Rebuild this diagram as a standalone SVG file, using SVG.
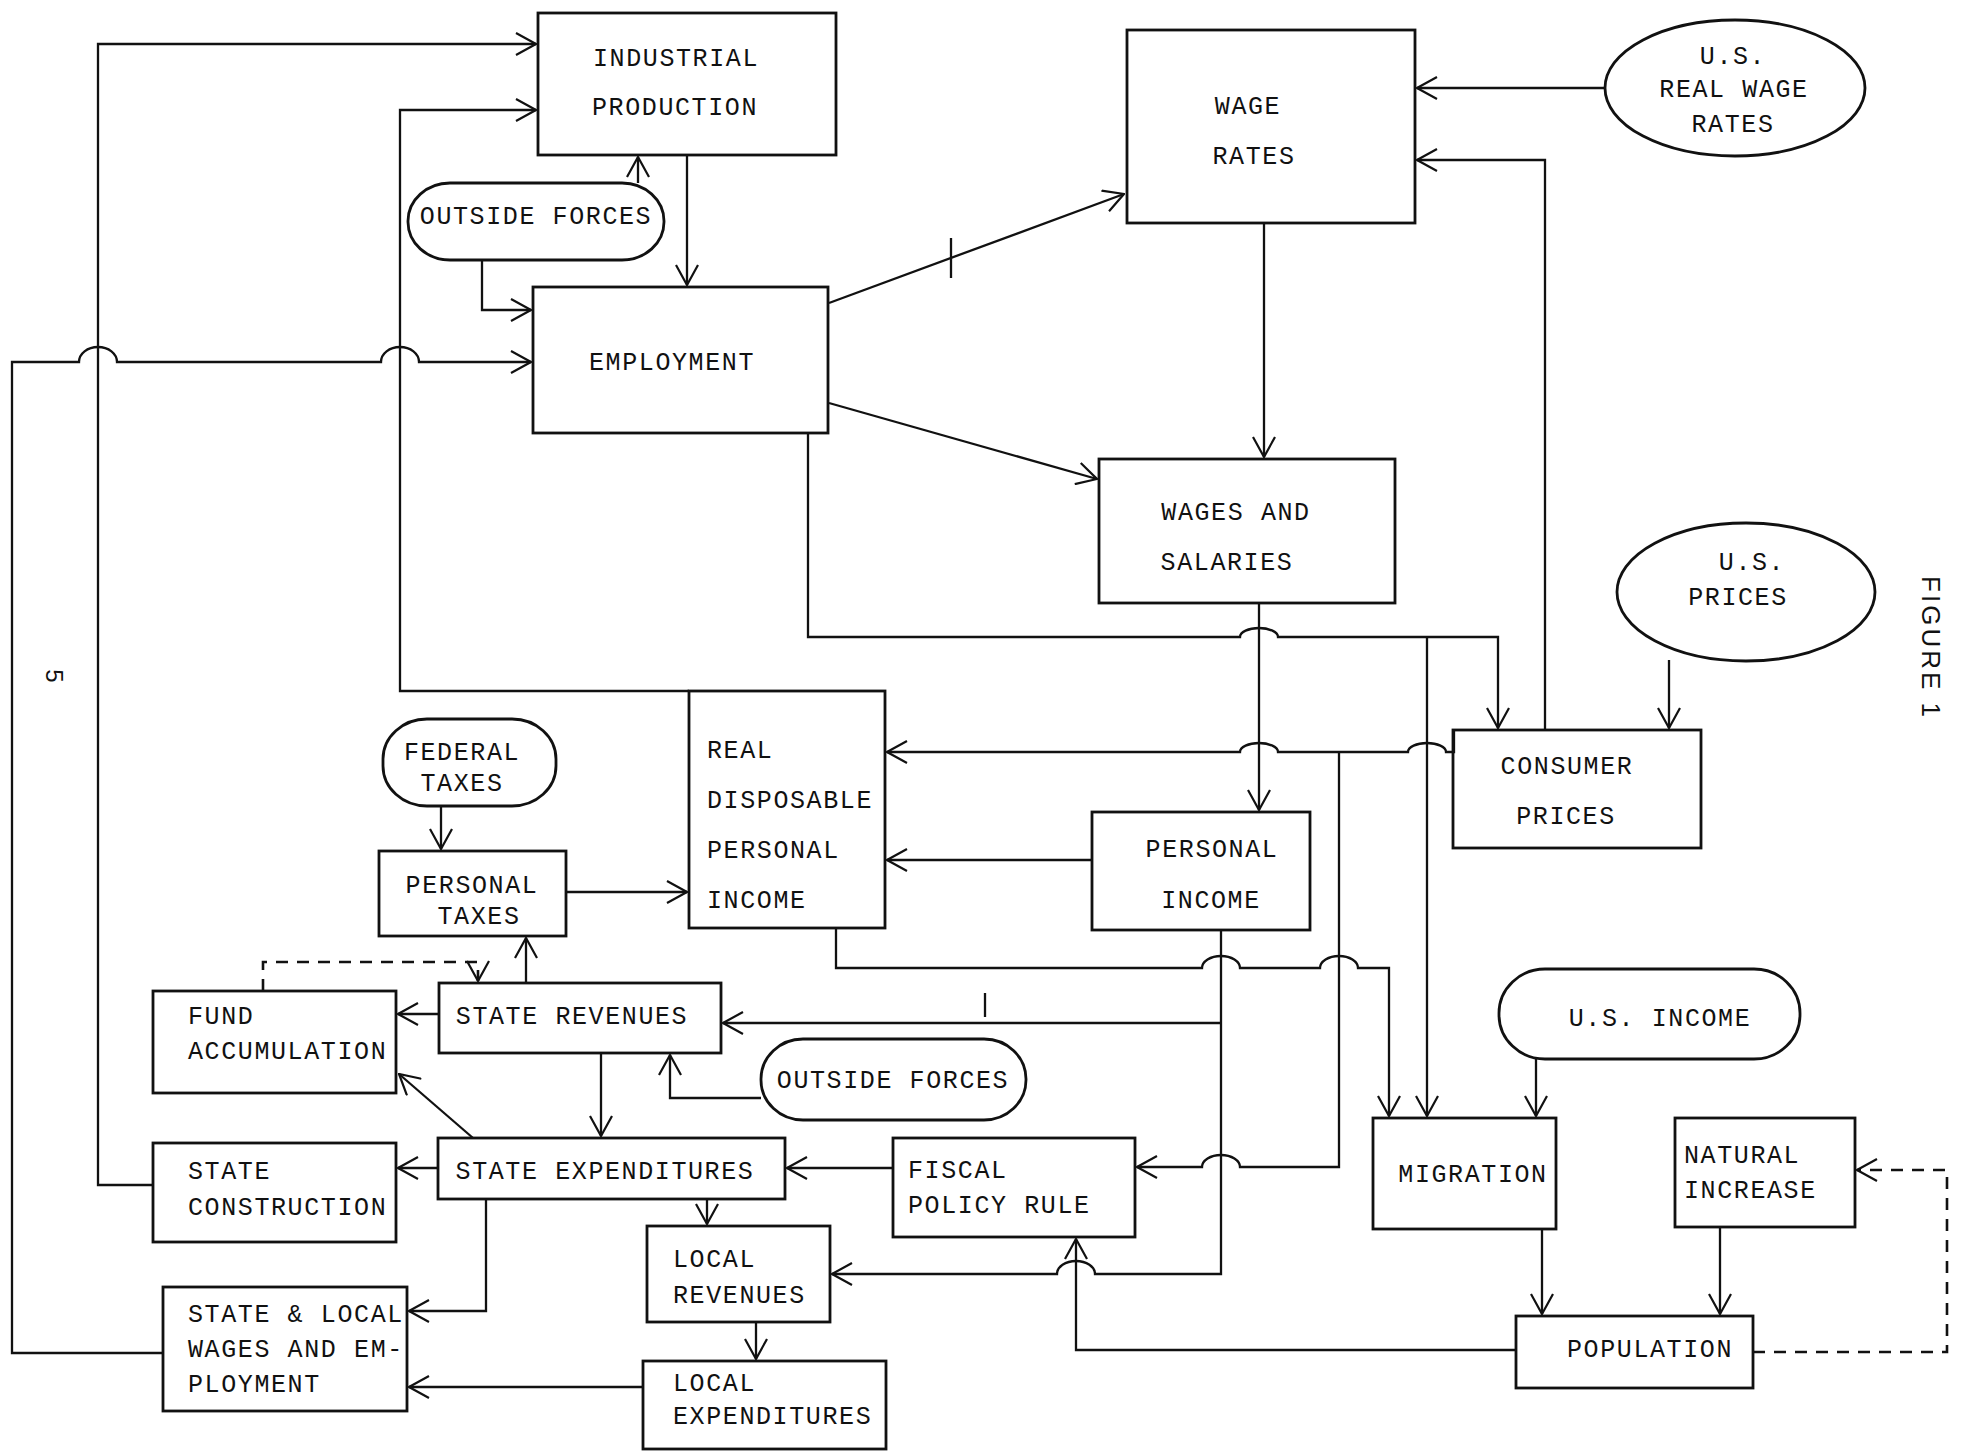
<svg xmlns="http://www.w3.org/2000/svg" width="1963" height="1452" viewBox="0 0 1963 1452">
<style>
.box{fill:none;stroke:#111;stroke-width:2.8}
.c{fill:none;stroke:#111;stroke-width:2.3}
.d{fill:none;stroke:#111;stroke-width:2.6;stroke-dasharray:12 9}
text{font-family:"Liberation Mono","DejaVu Sans Mono",monospace;font-size:25px;fill:#111;letter-spacing:1.6px}
.m{text-anchor:middle}
</style>
<defs>
<marker id="a" markerUnits="userSpaceOnUse" markerWidth="22" markerHeight="24" viewBox="0 0 22 24" refX="21" refY="12" orient="auto">
<path d="M1,1 L21,12 L1,23" fill="none" stroke="#111" stroke-width="2.2"/>
</marker>
</defs>
<rect width="1963" height="1452" fill="#fff"/>

<g id="connectors">
<path class="c" marker-end="url(#a)" d="M163,1353 H12 V362 H79 a19,15 0 0 1 38,0 H381 a19,15 0 0 1 38,0 H531"/>
<path class="c" marker-end="url(#a)" d="M153,1185 H98 V44 H536"/>
<path class="c" marker-end="url(#a)" d="M689,691 H400 V110 H536"/>
<path class="c" marker-end="url(#a)" d="M638,183 V157"/>
<path class="c" marker-end="url(#a)" d="M687,155 V285"/>
<path class="c" marker-end="url(#a)" d="M482,260 V310 H531"/>
<path class="c" marker-end="url(#a)" d="M829,303 L1124,194"/>
<path class="c" d="M951,238 V278"/>
<path class="c" marker-end="url(#a)" d="M829,403 L1097,479"/>
<path class="c" marker-end="url(#a)" d="M1606,88 H1417"/>
<path class="c" marker-end="url(#a)" d="M1545,730 V160 H1417"/>
<path class="c" marker-end="url(#a)" d="M1264,223 V457"/>
<path class="c" marker-end="url(#a)" d="M1669,660 V728"/>
<path class="c" marker-end="url(#a)" d="M808,433 V637 H1240 a19,9 0 0 1 38,0 H1498 V728"/>
<path class="c" marker-end="url(#a)" d="M1427,637 V1116"/>
<path class="c" marker-end="url(#a)" d="M1259,603 V810"/>
<path class="c" marker-end="url(#a)" d="M1454,730 V752 H1446 a19,9 0 0 0 -38,0 H1278 a19,9 0 0 0 -38,0 H887"/>
<path class="c" marker-end="url(#a)" d="M1339,752 V1167 H1240 a19,12 0 0 0 -38,0 H1137"/>
<path class="c" marker-end="url(#a)" d="M1092,860 H887"/>
<path class="c" marker-end="url(#a)" d="M566,892 H687"/>
<path class="c" marker-end="url(#a)" d="M441,806 V849"/>
<path class="c" marker-end="url(#a)" d="M836,928 V968 H1202 a19,12 0 0 1 38,0 H1320 a19,12 0 0 1 38,0 H1389 V1116"/>
<path class="c" marker-end="url(#a)" d="M1221,930 V1274 H1095 a19,13 0 0 0 -38,0 H832"/>
<path class="c" marker-end="url(#a)" d="M1221,1023 H723"/>
<path class="c" d="M985,993 V1017"/>
<path class="c" marker-end="url(#a)" d="M1516,1350 H1076 V1239"/>
<path class="c" marker-end="url(#a)" d="M1542,1229 V1314"/>
<path class="c" marker-end="url(#a)" d="M1720,1227 V1314"/>
<path class="d" marker-end="url(#a)" d="M1753,1352 H1947 V1170 H1857"/>
<path class="c" marker-end="url(#a)" d="M1536,1059 V1116"/>
<path class="c" marker-end="url(#a)" d="M439,1014 H398"/>
<path class="c" marker-end="url(#a)" d="M526,983 V938"/>
<path class="d" marker-end="url(#a)" d="M263,991 V962 H478 V981"/>
<path class="c" marker-end="url(#a)" d="M601,1053 V1136"/>
<path class="c" marker-end="url(#a)" d="M761,1098 H670 V1055"/>
<path class="c" marker-end="url(#a)" d="M473,1138 L399,1074"/>
<path class="c" marker-end="url(#a)" d="M438,1168 H398"/>
<path class="c" marker-end="url(#a)" d="M893,1168 H787"/>
<path class="c" marker-end="url(#a)" d="M707,1199 V1224"/>
<path class="c" marker-end="url(#a)" d="M486,1199 V1311 H409"/>
<path class="c" marker-end="url(#a)" d="M756,1322 V1359"/>
<path class="c" marker-end="url(#a)" d="M643,1387 H409"/>
</g>

<g id="industrial-production"><rect class="box" x="538" y="13" width="298" height="142"/>
<text class="m" x="676" y="66">INDUSTRIAL</text><text class="m" x="675" y="115">PRODUCTION</text></g>
<g id="outside-forces-top"><rect class="box" x="408" y="183" width="256" height="77" rx="42" ry="38"/>
<text class="m" x="536" y="224">OUTSIDE FORCES</text></g>
<g id="employment"><rect class="box" x="533" y="287" width="295" height="146"/>
<text class="m" x="672" y="370">EMPLOYMENT</text></g>
<g id="wage-rates"><rect class="box" x="1127" y="30" width="288" height="193"/>
<text class="m" x="1248" y="114">WAGE</text><text class="m" x="1254" y="164">RATES</text></g>
<g id="us-real-wage-rates"><ellipse class="box" cx="1735" cy="88" rx="130" ry="68"/>
<text class="m" x="1733" y="64">U.S.</text><text class="m" x="1734" y="97">REAL WAGE</text><text class="m" x="1733" y="132">RATES</text></g>
<g id="wages-and-salaries"><rect class="box" x="1099" y="459" width="296" height="144"/>
<text class="m" x="1236" y="520">WAGES AND</text><text class="m" x="1227" y="570">SALARIES</text></g>
<g id="us-prices"><ellipse class="box" cx="1746" cy="592" rx="129" ry="69"/>
<text class="m" x="1752" y="570">U.S.</text><text class="m" x="1738" y="605">PRICES</text></g>
<g id="consumer-prices"><rect class="box" x="1453" y="730" width="248" height="118"/>
<text class="m" x="1567" y="774">CONSUMER</text><text class="m" x="1566" y="824">PRICES</text></g>
<g id="real-disposable-personal-income"><rect class="box" x="689" y="691" width="196" height="237"/>
<text x="707" y="758">REAL</text><text x="707" y="808">DISPOSABLE</text><text x="707" y="858">PERSONAL</text><text x="707" y="908">INCOME</text></g>
<g id="personal-income"><rect class="box" x="1092" y="812" width="218" height="118"/>
<text class="m" x="1212" y="857">PERSONAL</text><text class="m" x="1211" y="908">INCOME</text></g>
<g id="federal-taxes"><rect class="box" x="383" y="719" width="173" height="87" rx="44" ry="40"/>
<text class="m" x="462" y="760">FEDERAL</text><text class="m" x="462" y="791">TAXES</text></g>
<g id="personal-taxes"><rect class="box" x="379" y="851" width="187" height="85"/>
<text class="m" x="472" y="893">PERSONAL</text><text class="m" x="479" y="924">TAXES</text></g>
<g id="fund-accumulation"><rect class="box" x="153" y="991" width="243" height="102"/>
<text x="188" y="1024">FUND</text><text x="188" y="1059">ACCUMULATION</text></g>
<g id="state-revenues"><rect class="box" x="439" y="983" width="282" height="70"/>
<text class="m" x="572" y="1024">STATE REVENUES</text></g>
<g id="outside-forces-bottom"><rect class="box" x="761" y="1039" width="265" height="81" rx="42" ry="40"/>
<text class="m" x="893" y="1088">OUTSIDE FORCES</text></g>
<g id="state-expenditures"><rect class="box" x="438" y="1138" width="347" height="61"/>
<text class="m" x="605" y="1179">STATE EXPENDITURES</text></g>
<g id="state-construction"><rect class="box" x="153" y="1143" width="243" height="99"/>
<text x="188" y="1179">STATE</text><text x="188" y="1215">CONSTRUCTION</text></g>
<g id="fiscal-policy-rule"><rect class="box" x="893" y="1138" width="242" height="99"/>
<text x="908" y="1178">FISCAL</text><text x="908" y="1213">POLICY RULE</text></g>
<g id="local-revenues"><rect class="box" x="647" y="1226" width="183" height="96"/>
<text x="673" y="1267">LOCAL</text><text x="673" y="1303">REVENUES</text></g>
<g id="state-local-wages-employment"><rect class="box" x="163" y="1287" width="244" height="124"/>
<text x="188" y="1322">STATE &amp; LOCAL</text><text x="188" y="1357">WAGES AND EM-</text><text x="188" y="1392">PLOYMENT</text></g>
<g id="local-expenditures"><rect class="box" x="643" y="1361" width="243" height="88"/>
<text x="673" y="1391">LOCAL</text><text x="673" y="1424">EXPENDITURES</text></g>
<g id="migration"><rect class="box" x="1373" y="1118" width="183" height="111"/>
<text class="m" x="1473" y="1182">MIGRATION</text></g>
<g id="us-income"><rect class="box" x="1499" y="969" width="301" height="90" rx="46" ry="44"/>
<text class="m" x="1660" y="1026">U.S. INCOME</text></g>
<g id="natural-increase"><rect class="box" x="1675" y="1118" width="180" height="109"/>
<text x="1684" y="1163">NATURAL</text><text x="1684" y="1198">INCREASE</text></g>
<g id="population"><rect class="box" x="1516" y="1316" width="237" height="72"/>
<text class="m" x="1650" y="1357">POPULATION</text></g>

<text transform="translate(46,676) rotate(90)" class="m" style="font-family:'Liberation Sans',Arial,sans-serif;font-size:24px;letter-spacing:0">5</text>
<text transform="translate(1922,648) rotate(90)" class="m" style="font-family:'Liberation Sans',Arial,sans-serif;font-size:26px;letter-spacing:3px">FIGURE 1</text>
</svg>
